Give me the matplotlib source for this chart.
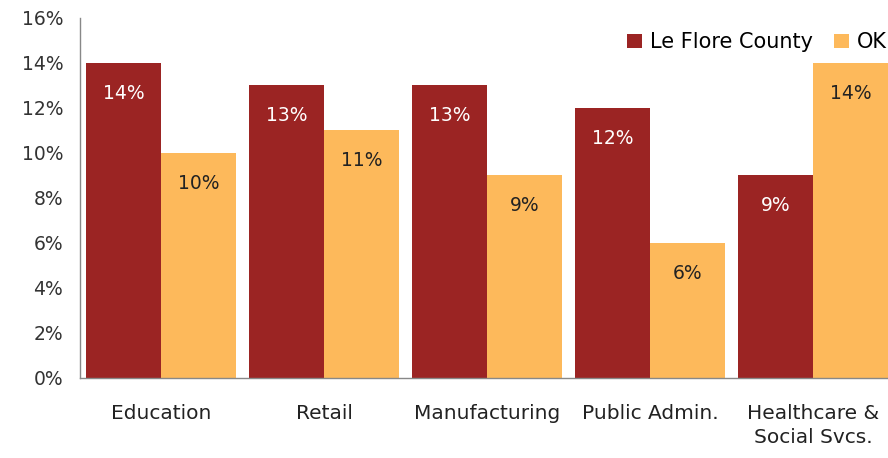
import matplotlib.pyplot as plt
import numpy as np

plt.rcParams['font.family'] = ['DejaVu Sans']

categories = ["Education", "Retail", "Manufacturing", "Public Admin.", "Healthcare &\nSocial Svcs."]
le_flore = [14, 13, 13, 12, 9]
ok = [10, 11, 9, 6, 14]
yticks = [0, 2, 4, 6, 8, 10, 12, 14, 16]

dark = "#9B2423"
gold = "#FDB95B"

fig = plt.figure(figsize=(8.88, 4.58), dpi=100)
ax = fig.add_axes([0.090, 0.175, 0.91, 0.786])

x = np.arange(len(categories))
w = 0.46
b1 = ax.bar(x - w / 2, le_flore, w, color=dark, label="Le Flore County")
b2 = ax.bar(x + w / 2, ok, w, color=gold, label="OK")

for rect, v in zip(b1, le_flore):
    ax.text(rect.get_x() + rect.get_width() / 2, v - 1.35, f"{v}%", ha="center", va="center",
            color="white", fontsize=13.5)
for rect, v in zip(b2, ok):
    ax.text(rect.get_x() + rect.get_width() / 2, v - 1.35, f"{v}%", ha="center", va="center",
            color="#222222", fontsize=13.5)

ax.set_ylim(0, 16)
ax.set_xlim(-0.497, 4.46)
ax.set_yticks(yticks)
ax.set_yticklabels([f"{t}%" for t in yticks], fontsize=13.5, color="#333333")
ax.set_xticks(x)
ax.set_xticklabels(categories, fontsize=14.5, color="#222222", linespacing=1.3, va="top")
ax.tick_params(axis="both", length=0)
ax.tick_params(axis="x", pad=19)
ax.tick_params(axis="y", pad=12)

for s in ["top", "right"]:
    ax.spines[s].set_visible(False)
for s in ["left", "bottom"]:
    ax.spines[s].set_color("#888888")
    ax.spines[s].set_linewidth(1)

ax.legend(loc="upper right", bbox_to_anchor=(1.022, 1.012), ncol=2, frameon=False, fontsize=15,
          handlelength=0.7, handleheight=0.7, handletextpad=0.4, columnspacing=1.0)

fig.savefig("out.png", dpi=100)
